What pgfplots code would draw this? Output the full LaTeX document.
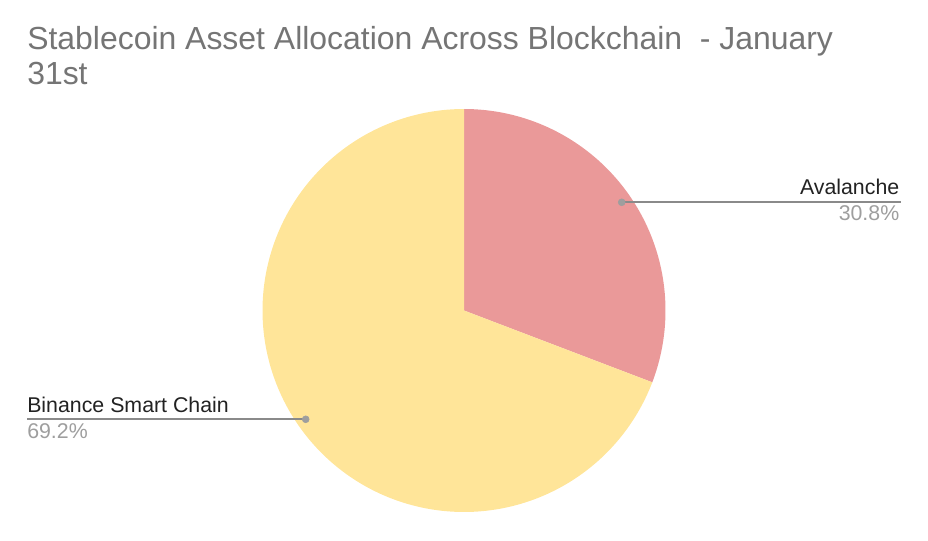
\documentclass[border=0pt]{standalone}
\usepackage{pgfplots}
\pgfplotsset{compat=1.18}
\usepackage{fontspec}
\setmainfont{Liberation Sans}
\definecolor{avcol}{HTML}{EA9999}
\definecolor{bscol}{HTML}{FFE599}
\definecolor{titlecol}{HTML}{757575}
\definecolor{pctcol}{HTML}{9E9E9E}
\definecolor{leadcol}{HTML}{8A8A8A}
\definecolor{labcol}{HTML}{222222}
% data (percent)
\def\valAva{30.8}
\def\valBsc{69.2}
\pgfmathsetmacro\angA{90-3.6*\valAva}
\pgfmathsetmacro\angB{\angA-3.6*\valBsc}
\begin{document}
\begin{tikzpicture}
\begin{axis}[
  scale only axis, width=696pt, height=405pt,
  xmin=0, xmax=928, ymin=0, ymax=540,
  hide axis, clip=false,
]
\path (axis cs:0,0) rectangle (axis cs:928,540);
% pie slices
\addplot[draw=none, fill=avcol, domain=90:\angA, samples=120]
  ({464+201.5*cos(x)},{229.5+201.5*sin(x)}) -- (axis cs:464,229.5) -- cycle;
\addplot[draw=none, fill=bscol, domain=\angA:\angB, samples=200]
  ({464+201.5*cos(x)},{229.5+201.5*sin(x)}) -- (axis cs:464,229.5) -- cycle;
% leader lines
\addplot[leadcol, line width=1.5pt, mark=none] coordinates {(621.7,337.7) (901,337.7)};
\addplot[leadcol, line width=1.5pt, mark=none] coordinates {(27,120.7) (305.7,120.7)};
\addplot[color=pctcol, only marks, mark=*, mark size=2.6pt, mark options={draw=pctcol, fill=pctcol}]
  coordinates {(621.7,337.7) (305.7,120.7)};
% labels
\node[anchor=base east, inner sep=0pt, font=\fontsize{16}{19}\selectfont, text=labcol] at (axis cs:899.5,345.5) {Avalanche};
\node[anchor=base east, inner sep=0pt, font=\fontsize{16}{19}\selectfont, text=pctcol] at (axis cs:899.5,319.5) {30.8\%};
\node[anchor=base west, inner sep=0pt, font=\fontsize{16}{19}\selectfont, text=labcol] at (axis cs:27,128) {Binance Smart Chain};
\node[anchor=base west, inner sep=0pt, font=\fontsize{16}{19}\selectfont, text=pctcol] at (axis cs:27,102) {69.2\%};
% title
\node[anchor=base west, inner sep=0pt, font=\fontsize{23.95}{28}\selectfont, text=titlecol] at (axis cs:27,490) {Stablecoin Asset Allocation Across Blockchain\ \ - January};
\node[anchor=base west, inner sep=0pt, font=\fontsize{23.95}{28}\selectfont, text=titlecol] at (axis cs:27,455.7) {31st};
\end{axis}
\end{tikzpicture}
\end{document}
